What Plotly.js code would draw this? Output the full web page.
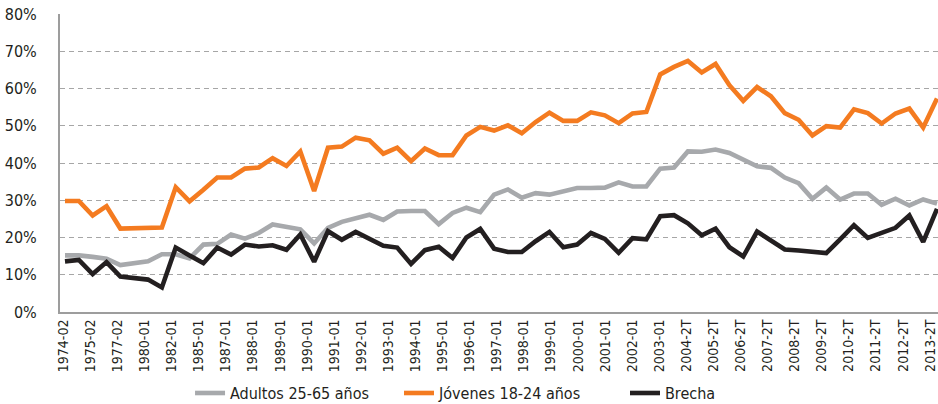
<!DOCTYPE html>
<html>
<head>
<meta charset="utf-8">
<script src="https://cdn.plot.ly/plotly-3.0.1.min.js"></script>
<style>
html,body{margin:0;padding:0;background:#fff;}
#chart{width:938px;height:404px;}
</style>
</head>
<body>
<div id="chart"></div>
<script>
const tickLabels = ["1974-02","1975-02","1977-02","1980-01","1982-01","1985-01","1987-01","1988-01","1989-01","1990-01","1991-01","1992-01","1993-01","1994-01","1995-01","1996-01","1997-01","1998-01","1999-01","2000-01","2001-01","2002-01","2003-01","2004-2T","2005-2T","2006-2T","2007-2T","2008-2T","2009-2T","2010-2T","2011-2T","2012-2T","2013-2T"];

const adultos = [15.2,15.2,14.8,14.3,12.6,13.1,13.6,15.5,15.5,14.4,18.1,18.3,20.8,19.7,21.2,23.5,22.8,22.2,18.4,22.6,24.2,25.2,26.1,24.7,27.0,27.1,27.1,23.6,26.6,28.0,26.8,31.5,32.9,30.7,31.9,31.5,32.5,33.3,33.3,33.4,34.8,33.7,33.7,38.5,38.8,43.1,43.0,43.6,42.7,40.9,39.1,38.7,36.1,34.6,30.4,33.4,30.2,31.8,31.8,28.8,30.4,28.6,30.2,29.1];

const jovenes = [29.8,29.8,25.9,28.4,22.4,22.5,22.6,22.7,33.5,29.7,32.8,36.1,36.1,38.5,38.8,41.3,39.2,43.1,32.5,44.1,44.4,46.8,46.1,42.5,44.1,40.5,43.9,42.1,42.1,47.4,49.7,48.7,50.1,48.0,51.0,53.5,51.3,51.3,53.6,52.8,50.7,53.3,53.7,63.8,65.8,67.4,64.3,66.6,60.9,56.7,60.4,57.9,53.4,51.6,47.4,49.9,49.5,54.4,53.4,50.6,53.3,54.6,49.5,57.3];

const brecha = [13.6,14.0,10.2,13.4,9.5,9.1,8.7,6.6,17.3,15.2,13.1,17.3,15.4,18.1,17.6,17.9,16.7,20.8,13.5,21.7,19.4,21.5,19.7,17.8,17.3,12.9,16.6,17.5,14.5,20.0,22.3,17.0,16.1,16.1,19.0,21.5,17.4,18.1,21.2,19.6,15.9,19.8,19.5,25.7,26.0,23.8,20.6,22.4,17.4,14.9,21.6,19.2,16.8,16.5,16.2,15.8,19.5,23.3,19.9,21.2,22.6,25.9,18.8,27.7];

const seriesNames = ["Adultos 25-65 años","Jóvenes 18-24 años","Brecha"];
const seriesColors = ["#a7a9ac","#f47b20","#231f20"];
const legendIds = ["legend","legend2","legend3"];
const legendX = [0.2026, 0.4254, 0.6663];

const n = adultos.length;
const xs = adultos.map((_, i) => i);
const firstTick = -0.12, lastTick = n - 1 - 0.5;
const step = (lastTick - firstTick) / (tickLabels.length - 1);
const tickVals = tickLabels.map((_, k) => firstTick + k * step);

const FONT = '"Liberation Sans Narrow","DejaVu Sans Condensed","Roboto",sans-serif';

const traces = [adultos, jovenes, brecha].map((vals, s) => ({
  type: 'scatter',
  mode: 'lines',
  x: xs,
  y: vals,
  name: seriesNames[s],
  legend: legendIds[s],
  line: {color: seriesColors[s], width: 4.6, shape: 'linear'},
  hoverinfo: 'skip'
}));

function legendAt(xf) {
  return {
    orientation: 'h',
    xref: 'container', yref: 'container',
    x: xf, xanchor: 'left',
    y: 0.027, yanchor: 'middle',
    font: {family: FONT, size: 16, color: '#231f20'},
    itemwidth: 30,
    bgcolor: 'rgba(0,0,0,0)'
  };
}

const layout = {
  width: 938,
  height: 404,
  margin: {l: 60, r: 0, t: 14, b: 92},
  paper_bgcolor: '#fff',
  plot_bgcolor: '#fff',
  font: {family: FONT, color: '#231f20', size: 16},
  showlegend: true,
  legend: legendAt(legendX[0]),
  legend2: legendAt(legendX[1]),
  legend3: legendAt(legendX[2]),
  xaxis: {
    type: 'linear',
    range: [-0.36, n - 1 + 0.07],
    tickmode: 'array',
    tickvals: tickVals,
    ticktext: tickLabels,
    tickangle: -90,
    tickfont: {family: FONT, size: 14, color: '#231f20'},
    ticklabeloverflow: 'allow',
    showgrid: false,
    zeroline: false,
    showline: true,
    linecolor: '#9d9d9d',
    linewidth: 2,
    ticks: '',
    fixedrange: true
  },
  yaxis: {
    range: [0, 80],
    tickmode: 'array',
    tickvals: [0,10,20,30,40,50,60,70,80],
    ticktext: ['0%','10%','20%','30%','40%','50%','60%','70%','80%'],
    tickfont: {family: FONT, size: 16, color: '#231f20'},
    showgrid: true,
    gridcolor: '#a6a6a6',
    gridwidth: 1,
    griddash: '5px,4px',
    zeroline: false,
    showline: true,
    linecolor: '#9d9d9d',
    linewidth: 2,
    ticks: '',
    ticklabelstandoff: 18,
    fixedrange: true
  }
};

Plotly.newPlot('chart', traces, layout, {displayModeBar: false, staticPlot: true});
</script>
</body>
</html>
